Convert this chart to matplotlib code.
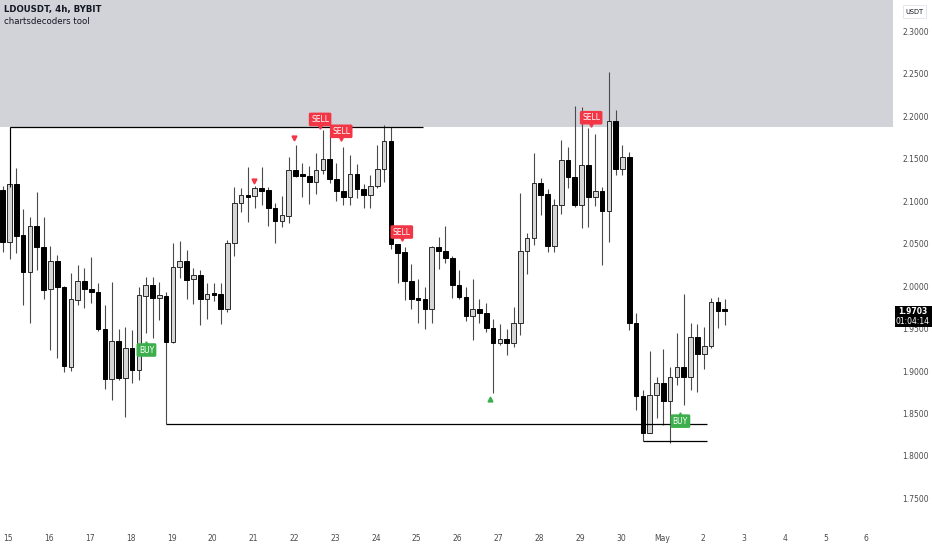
import matplotlib
matplotlib.use("Agg")
import matplotlib.pyplot as plt
from matplotlib.patches import Rectangle
import numpy as np

plt.rcParams["font.family"] = ["Liberation Sans Narrow", "DejaVu Sans Condensed", "DejaVu Sans"]

# LDOUSDT 4h candles
opens = [2.113, 2.052, 2.120, 2.060, 2.016, 2.071, 2.046, 1.996, 2.029, 1.999,
         1.905, 1.984, 2.006, 1.996, 1.993, 1.949, 1.891, 1.935, 1.892, 1.927,
         1.901, 1.988, 2.001, 1.986, 1.988, 1.934, 2.022, 2.029, 2.008, 2.013,
         1.985, 1.991, 1.991, 1.973, 2.051, 2.098, 2.107, 2.106, 2.115, 2.113,
         2.092, 2.076, 2.082, 2.136, 2.130, 2.129, 2.122, 2.136, 2.149, 2.126,
         2.112, 2.105, 2.132, 2.114, 2.107, 2.118, 2.138, 2.171, 2.049, 2.040,
         2.006, 1.985, 1.985, 1.973, 2.046, 2.041, 2.033, 2.001, 1.987, 1.965,
         1.973, 1.968, 1.951, 1.933, 1.938, 1.933, 1.956, 2.041, 2.056, 2.121,
         2.108, 2.047, 2.095, 2.148, 2.128, 2.095, 2.142, 2.105, 2.112, 2.088,
         2.194, 2.138, 2.152, 1.956, 1.871, 1.827, 1.872, 1.886, 1.865, 1.893,
         1.905, 1.893, 1.940, 1.920, 1.929, 1.981, 1.971]
highs = [2.118, 2.187, 2.139, 2.091, 2.081, 2.111, 2.081, 2.047, 2.036, 2.000,
         2.015, 2.025, 2.021, 2.034, 2.004, 1.978, 2.005, 1.949, 1.952, 1.948,
         1.999, 2.011, 2.011, 2.005, 1.993, 2.051, 2.053, 2.042, 2.021, 2.019,
         2.004, 2.004, 2.004, 2.054, 2.116, 2.115, 2.140, 2.118, 2.140, 2.116,
         2.098, 2.106, 2.152, 2.166, 2.145, 2.141, 2.156, 2.183, 2.178, 2.145,
         2.164, 2.154, 2.144, 2.120, 2.131, 2.166, 2.190, 2.187, 2.050, 2.046,
         2.026, 2.008, 1.999, 2.047, 2.058, 2.071, 2.035, 2.019, 1.999, 2.008,
         1.985, 1.980, 1.961, 1.955, 1.949, 1.975, 2.109, 2.062, 2.156, 2.127,
         2.114, 2.102, 2.172, 2.164, 2.212, 2.211, 2.186, 2.179, 2.116, 2.252,
         2.207, 2.166, 2.158, 1.968, 1.878, 1.924, 1.893, 1.926, 1.905, 1.945,
         1.991, 1.956, 1.955, 1.952, 1.986, 1.987, 1.985]
lows = [2.040, 2.032, 2.039, 1.978, 1.956, 2.019, 1.985, 1.925, 1.915, 1.899,
        1.900, 1.978, 1.974, 1.980, 1.947, 1.879, 1.866, 1.889, 1.846, 1.886,
        1.889, 1.945, 1.939, 1.960, 1.8376, 1.933, 2.009, 1.985, 1.979, 1.954,
        1.961, 1.982, 1.955, 1.969, 2.035, 2.087, 2.075, 2.092, 2.095, 2.071,
        2.051, 2.069, 2.074, 2.128, 2.105, 2.096, 2.108, 2.132, 2.121, 2.100,
        2.095, 2.095, 2.104, 2.092, 2.092, 2.115, 2.122, 2.044, 2.004, 1.984,
        1.973, 1.956, 1.949, 1.956, 2.020, 2.027, 1.986, 1.985, 1.959, 1.936,
        1.956, 1.946, 1.874, 1.931, 1.919, 1.928, 1.942, 2.014, 2.048, 2.084,
        2.040, 2.040, 2.085, 2.115, 2.093, 2.068, 2.069, 2.094, 2.025, 2.052,
        2.131, 2.131, 1.948, 1.854, 1.8176, 1.827, 1.845, 1.836, 1.815, 1.884,
        1.860, 1.878, 1.875, 1.902, 1.927, 1.951, 1.954]
closes = [2.052, 2.120, 2.059, 2.016, 2.071, 2.046, 1.995, 2.029, 1.999, 1.906,
          1.985, 2.006, 1.996, 1.993, 1.949, 1.891, 1.935, 1.892, 1.927, 1.901,
          1.989, 2.001, 1.986, 1.989, 1.934, 2.022, 2.029, 2.007, 2.013, 1.985,
          1.991, 1.990, 1.973, 2.051, 2.098, 2.107, 2.105, 2.115, 2.112, 2.092,
          2.076, 2.084, 2.136, 2.129, 2.129, 2.122, 2.136, 2.149, 2.126, 2.112,
          2.105, 2.132, 2.114, 2.107, 2.118, 2.138, 2.171, 2.049, 2.039, 2.006,
          1.985, 1.984, 1.973, 2.046, 2.041, 2.033, 2.001, 1.987, 1.965, 1.973,
          1.968, 1.951, 1.933, 1.938, 1.933, 1.956, 2.041, 2.056, 2.121, 2.107,
          2.047, 2.095, 2.148, 2.128, 2.095, 2.142, 2.105, 2.112, 2.088, 2.194,
          2.138, 2.152, 1.956, 1.871, 1.827, 1.872, 1.886, 1.865, 1.893, 1.905,
          1.893, 1.940, 1.920, 1.930, 1.981, 1.971, 1.9703]

day_labels = ["15", "16", "17", "18", "19", "20", "21", "22", "23", "24", "25",
              "26", "27", "28", "29", "30", "May", "2", "3", "4", "5", "6"]
price_ticks = [1.75, 1.80, 1.85, 1.90, 1.95, 2.00, 2.05, 2.10, 2.15, 2.20, 2.25, 2.30]

# pivot levels: (start candle, end candle, price)
levels = [(1, 61.7, 2.187), (24, 103.4, 1.8376), (94, 103.4, 1.8176)]
supply_zone = (2.187, 2.40)

sell_x = [46.6, 49.7, 58.6, 86.4]
sell_y = [2.196, 2.182, 2.0635, 2.198]
buy_x = [21.1, 99.5]
buy_y = [1.9247, 1.841]
tri_dn_x = [36.9, 42.8]
tri_dn_y = [2.1235, 2.174]
tri_up_x = [71.6]
tri_up_y = [1.867]
last_price = 1.9703

fig = plt.figure(figsize=(9.32, 5.5), dpi=100)
ax = fig.add_axes([0, 0.051, 0.958, 0.949])
ax.set_xlim(-0.4, 130.7)
ax.set_ylim(1.7224, 2.3365)

ax.axhspan(supply_zone[0], supply_zone[1], color="#d1d3d8", zorder=0, lw=0)

o = np.array(opens); h = np.array(highs); l = np.array(lows); c = np.array(closes)
x = np.arange(len(o))
up = c >= o
ax.vlines(x, l, h, color="#4a4a4a", lw=0.8, zorder=2)
bottom = np.minimum(o, c)
height = np.maximum(np.abs(c - o), 0.0022)
ax.bar(x[up], height[up], 0.68, bottom=bottom[up], color="#d6d6d6",
       edgecolor="#2a2a2a", lw=0.7, zorder=3)
ax.bar(x[~up], height[~up], 0.68, bottom=bottom[~up], color="#000000",
       edgecolor="#000000", lw=0.7, zorder=3)

# pivot lines
for x0, x1, p in levels:
    ax.hlines(p, x0, x1, color="#000000", lw=0.9, zorder=4)
ax.vlines(1, highs[1] - 0.07, 2.187, color="#000000", lw=0.8, zorder=4)

# signals
for sx, sy in zip(sell_x, sell_y):
    ax.text(sx, sy, "SELL", fontsize=5.5, color="white", ha="center", va="center",
            zorder=6, bbox=dict(boxstyle="round,pad=0.3,rounding_size=0.2",
                                fc="#f23645", ec="none"))
    ax.plot(sx, sy - 0.0085, marker="v", ms=2.5, color="#f23645", zorder=6)
for bx, by in zip(buy_x, buy_y):
    ax.text(bx, by, "BUY", fontsize=5.5, color="white", ha="center", va="center",
            zorder=6, bbox=dict(boxstyle="round,pad=0.3,rounding_size=0.2",
                                fc="#3cae4c", ec="none"))
    ax.plot(bx, by + 0.0085, marker="^", ms=2.5, color="#3cae4c", zorder=6)
ax.plot(tri_dn_x, tri_dn_y, "v", ms=3.5, color="#f23645", lw=0, zorder=6)
ax.plot(tri_up_x, tri_up_y, "^", ms=3.5, color="#3cae4c", lw=0, zorder=6)

# axes styling
for s in ax.spines.values():
    s.set_visible(False)
ax.yaxis.tick_right()
ax.set_yticks(price_ticks)
ax.set_yticklabels(["%.4f" % p for p in price_ticks])
ax.tick_params(axis="y", length=0, pad=7, labelsize=5.5, labelcolor="#4a4a4a")
ax.set_xticks([1 + 6 * k - 0.2 for k in range(len(day_labels))])
ax.set_xticklabels(day_labels)
ax.tick_params(axis="x", length=0, pad=9, labelsize=5.5, labelcolor="#4a4a4a")

# header
fig.text(0.0045, 0.982, "LDOUSDT, 4h, BYBIT", fontsize=6.2, fontweight="bold",
         color="#131722", va="center")
fig.text(0.0045, 0.96, "chartsdecoders tool", fontsize=6.2, color="#131722", va="center")

# USDT box and last price tag
fig.patches.append(Rectangle((903 / 932, 1 - 18 / 550), 23 / 932, 13 / 550,
                             transform=fig.transFigure, fc="white", ec="#e0e3eb", lw=0.6))
fig.text(914.5 / 932, 1 - 11.5 / 550, "USDT", fontsize=4.8, color="#131722",
         ha="center", va="center")
fig.patches.append(Rectangle((895 / 932, 1 - 327 / 550), 37 / 932, 21 / 550,
                             transform=fig.transFigure, fc="#000000", ec="none"))
fig.text(913 / 932, 1 - 311 / 550, "%.4f" % last_price, fontsize=5.5, color="white",
         ha="center", va="center", fontweight="bold")
fig.text(913 / 932, 1 - 321.5 / 550, "01:04:14", fontsize=5.5, color="white",
         ha="center", va="center")

fig.savefig("out.png", dpi=100)
